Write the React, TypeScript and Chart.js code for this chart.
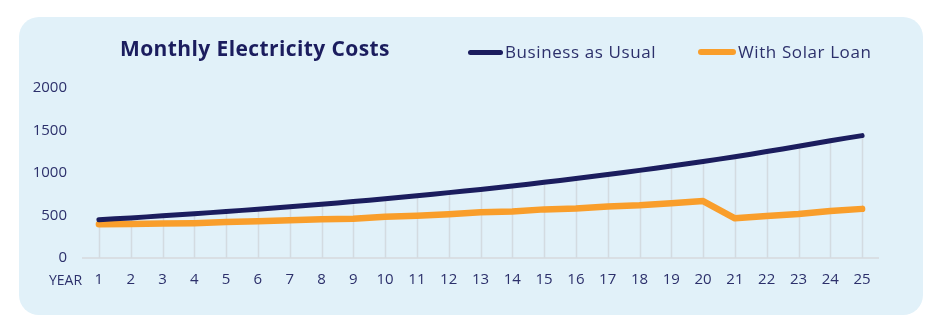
import React, { useEffect, useRef } from "react";
import { Chart, registerables } from "chart.js";

Chart.register(...registerables);

const years = ["1","2","3","4","5","6","7","8","9","10","11","12","13","14","15","16","17","18","19","20","21","22","23","24","25"];
const businessAsUsual = [450,472,496,521,547,574,603,633,664,697,732,769,807,848,890,935,982,1031,1082,1135,1192,1252,1315,1380,1440];
const withSolarLoan = [398,400,405,410,423,433,445,455,462,486,498,514,538,547,572,582,606,620,645,670,467,494,518,553,578];
const yTicks = [0, 500, 1000, 1500, 2000];

const NAVY = "#1b1d5e";
const ORANGE = "#f99e2b";
const TEXT = "#2c306b";
const FONT = "'Open Sans', sans-serif";

const dropLines = {
  id: "dropLines",
  beforeDatasetsDraw(chart: any) {
    const { ctx, scales } = chart;
    const meta = chart.getDatasetMeta(0);
    const y0 = scales.y.getPixelForValue(0);
    ctx.save();
    ctx.strokeStyle = "#d3dbe1";
    ctx.lineWidth = 1.5;
    meta.data.forEach((pt: any) => {
      ctx.beginPath();
      ctx.moveTo(Math.round(pt.x) + 0.5, y0);
      ctx.lineTo(Math.round(pt.x) + 0.5, pt.y);
      ctx.stroke();
    });
    ctx.restore();
  },
};

export default function App() {
  const ref = useRef<HTMLCanvasElement>(null);
  useEffect(() => {
    if (!ref.current) return;
    const chart = new Chart(ref.current, {
      type: "line",
      data: {
        labels: years,
        datasets: [
          {
            label: "Business as Usual",
            data: businessAsUsual,
            borderColor: NAVY,
            borderWidth: 5,
            tension: 0.3,
            pointRadius: 0,
            borderCapStyle: "round",
            borderJoinStyle: "round",
          },
          {
            label: "With Solar Loan",
            data: withSolarLoan,
            borderColor: ORANGE,
            borderWidth: 6.5,
            tension: 0,
            pointRadius: 0,
            borderCapStyle: "round",
            borderJoinStyle: "round",
          },
        ],
      },
      options: {
        animation: false,
        responsive: false,
        maintainAspectRatio: false,
        layout: { padding: { top: 71, right: 45, left: 0, bottom: 0 } },
        plugins: { legend: { display: false }, title: { display: false }, tooltip: { enabled: false } },
        scales: {
          x: {
            offset: true,
            grid: { display: false, drawTicks: false },
            border: { display: true, color: "#d9dfe4", width: 2 },
            ticks: { color: TEXT, font: { family: FONT, size: 15 }, padding: 13, maxRotation: 0, autoSkip: false },
            afterFit: (s: any) => { s.height = 57; },
          },
          y: {
            min: 0,
            max: 2000,
            grid: { display: false, drawTicks: false },
            border: { display: false },
            afterBuildTicks: (s: any) => { s.ticks = yTicks.map((v) => ({ value: v })); },
            ticks: { color: TEXT, font: { family: FONT, size: 15 }, padding: 16, callback: (v: any) => String(v) },
            afterFit: (s: any) => { s.width = 64; },
          },
        },
      },
      plugins: [dropLines],
    });
    return () => chart.destroy();
  }, []);

  return (
    <div style={{ position: "relative", width: 920, height: 314 }}>
      <div
        style={{
          position: "absolute",
          left: 11,
          top: 9,
          width: 904,
          height: 298,
          borderRadius: 20,
          background: "#e1f1f9",
          overflow: "hidden",
        }}
      >
        <canvas ref={ref} width={904} height={298} style={{ position: "absolute", left: 0, top: 0 }} />
        <div
          style={{
            position: "absolute",
            left: 101,
            top: 17,
            fontFamily: FONT,
            fontWeight: 700,
            fontSize: 21,
            letterSpacing: 0.4,
            color: NAVY,
            whiteSpace: "nowrap",
          }}
        >
          Monthly Electricity Costs
        </div>
        <div style={{ position: "absolute", left: 449, top: 33, width: 35, height: 5, borderRadius: 3, background: NAVY }} />
        <div
          style={{ position: "absolute", left: 486, top: 23, fontFamily: FONT, fontSize: 17, letterSpacing: 0.6, color: TEXT, whiteSpace: "nowrap" }}
        >
          Business as Usual
        </div>
        <div style={{ position: "absolute", left: 679, top: 32, width: 38, height: 6, borderRadius: 3, background: ORANGE }} />
        <div
          style={{ position: "absolute", left: 719, top: 23, fontFamily: FONT, fontSize: 17, letterSpacing: 0.6, color: TEXT, whiteSpace: "nowrap" }}
        >
          With Solar Loan
        </div>
        <div
          style={{ position: "absolute", left: 30, top: 253, fontFamily: FONT, fontSize: 14, color: TEXT, whiteSpace: "nowrap" }}
        >
          YEAR
        </div>
      </div>
    </div>
  );
}
